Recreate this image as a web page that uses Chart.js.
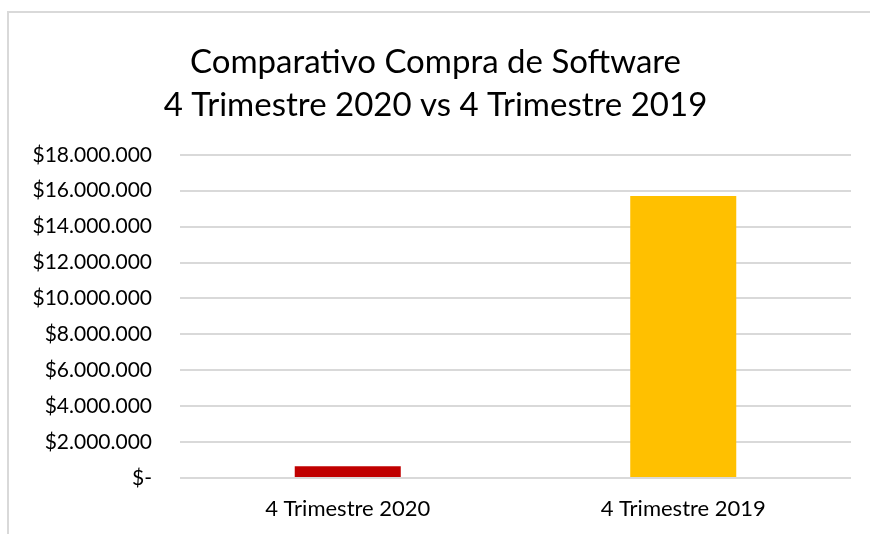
<!DOCTYPE html>
<html>
<head>
<meta charset="utf-8">
<script src="https://cdn.jsdelivr.net/npm/chart.js@4.4.0/dist/chart.umd.min.js"></script>
<style>
  body { margin: 0; background: #fff; }
  #frame {
    position: absolute; left: 0; top: 0; width: 870px; height: 534px;
  }
  #border {
    position: absolute; left: 7px; top: 11px; right: 0; bottom: 0;
    border-left: 2px solid #d9d9d9; border-top: 2px solid #d9d9d9;
  }
  canvas { position: absolute; left: 0; top: 0; }
</style>
</head>
<body>
<div id="frame">
  <div id="border"></div>
  <canvas id="myChart" width="870" height="534"></canvas>
</div>
<script>
const categories = ['4 Trimestre 2020', '4 Trimestre 2019'];
const values = [650000, 15700000];
const barColors = ['#C00000', '#FFC000'];
const titleLines = ['Comparativo Compra de Software', '4 Trimestre 2020 vs 4 Trimestre 2019'];
const yMax = 18000000;
const yStep = 2000000;

const fmt = (v) => {
  if (v === 0) return '$-';
  return '$' + v.toString().replace(/\B(?=(\d{3})+(?!\d))/g, '.');
};

const ctx = document.getElementById('myChart').getContext('2d');
const myChart = new Chart(ctx, {
  type: 'bar',
  data: {
    labels: categories,
    datasets: [{
      data: values,
      backgroundColor: barColors,
      borderWidth: 0,
      categoryPercentage: 1,
      barPercentage: 0.316,
    }],
  },
  options: {
    responsive: false,
    animation: false,
    layout: { padding: { left: 20, right: 19, top: 0, bottom: 0 } },
    plugins: {
      legend: { display: false },
      tooltip: { enabled: false },
      title: {
        display: true,
        text: titleLines,
        color: '#000',
        font: { family: 'Lato', size: 33, weight: 'normal', lineHeight: 1.3 },
        padding: { top: 41, bottom: 28 },
      },
    },
    scales: {
      x: {
        grid: { display: false },
        border: { display: false },
        ticks: { color: '#000', font: { family: 'Lato', size: 22 }, padding: 10, maxRotation: 0 },
        afterFit: (s) => { s.height = 56; },
      },
      y: {
        min: 0,
        max: yMax,
        ticks: {
          stepSize: yStep,
          color: '#000',
          font: { family: 'Lato', size: 21 },
          padding: 28,
          callback: (v) => fmt(v),
        },
        grid: { color: '#d9d9d9', lineWidth: 2, drawTicks: false },
        border: { display: false },
        afterFit: (s) => { s.width = 160; },
      },
    },
  },
});
</script>
</body>
</html>
